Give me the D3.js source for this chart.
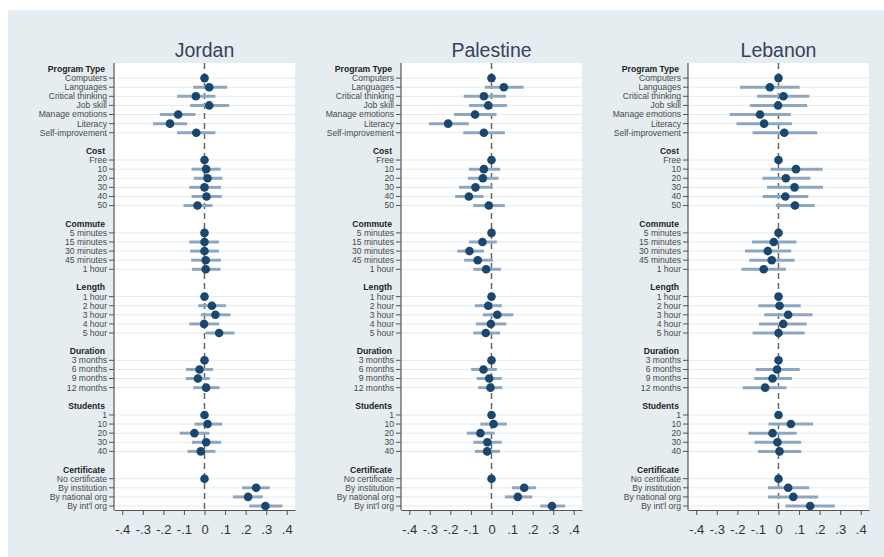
<!DOCTYPE html>
<html>
<head>
<meta charset="utf-8">
<script src="https://cdn.jsdelivr.net/npm/d3@7"></script>
<style>
  body { margin: 0; background: #fff; }
  text { font-family: "Liberation Sans", Arial, sans-serif; }
</style>
</head>
<body>
<div id="chart"></div>
<script>
// headings and levels of each attribute
const headings = ['Program Type', 'Cost', 'Commute', 'Length', 'Duration', 'Students', 'Certificate'];
const levels = [
  ['Computers', 'Languages', 'Critical thinking', 'Job skill', 'Manage emotions', 'Literacy', 'Self-improvement'],
  ['Free', '10', '20', '30', '40', '50'],
  ['5 minutes', '15 minutes', '30 minutes', '45 minutes', '1 hour'],
  ['1 hour', '2 hour', '3 hour', '4 hour', '5 hour'],
  ['3 months', '6 months', '9 months', '12 months'],
  ['1', '10', '20', '30', '40'],
  ['No certificate', 'By institution', 'By national org', "By int'l org"]
];
const countries = ['Jordan', 'Palestine', 'Lebanon'];

// point estimates, in level order (base level = 0, no interval)
const jordanEst = [0, .023, -.042, .023, -.128, -.168, -.04,
  0, .008, .015, 0, .01, -.034,
  0, 0, 0, .006, .006,
  0, .036, .053, -.002, .071,
  0, -.024, -.032, .008,
  0, .015, -.049, .008, -.018,
  0, .251, .212, .296];
const jordanLo = [null, -.055, -.133, -.07, -.217, -.25, -.133,
  null, -.063, -.052, -.074, -.063, -.102,
  null, -.074, -.07, -.065, -.061,
  null, -.03, -.018, -.074, .005,
  null, -.09, -.09, -.055,
  null, -.049, -.121, -.061, -.083,
  null, .183, .138, .218];
const jordanHi = [null, .11, .053, .12, -.044, -.084, .053,
  null, .078, .087, .08, .084, .039,
  null, .07, .07, .08, .078,
  null, .104, .126, .071, .146,
  null, .042, .026, .073,
  null, .086, .024, .081, .053,
  null, .317, .283, .379];

const palestineEst = [0, .06, -.037, -.016, -.08, -.211, -.037,
  0, -.037, -.042, -.078, -.11, -.013,
  0, -.044, -.107, -.067, -.026,
  0, -.016, .028, -.003, -.028,
  0, -.039, -.011, -.005,
  0, .01, -.054, -.02, -.021,
  0, .159, .128, .294];
const palestineLo = [null, -.033, -.135, -.109, -.182, -.304, -.137,
  null, -.11, -.115, -.158, -.177, -.089,
  null, -.109, -.167, -.133, -.089,
  null, -.081, -.042, -.076, -.089,
  null, -.099, -.072, -.065,
  null, -.054, -.12, -.088, -.081,
  null, .1, .065, .237];
const palestineHi = [null, .156, .07, .075, .024, -.11, .065,
  null, .042, .034, .005, -.039, .065,
  null, .026, -.037, .007, .046,
  null, .05, .106, .072, .042,
  null, .026, .05, .052,
  null, .075, .015, .05, .041,
  null, .216, .198, .358];

const lebanonEst = [0, -.042, .024, -.002, -.09, -.07, .028,
  0, .085, .036, .078, .033, .08,
  0, -.023, -.052, -.033, -.072,
  0, .005, .047, .023, 0,
  0, -.007, -.029, -.065,
  0, .06, -.029, -.005, .005,
  0, .047, .072, .154];
const lebanonLo = [null, -.188, -.104, -.139, -.237, -.204, -.126,
  null, -.039, -.078, -.056, -.077, -.013,
  null, -.129, -.163, -.142, -.18,
  null, -.098, -.069, -.095, -.126,
  null, -.111, -.118, -.174,
  null, -.049, -.146, -.116, -.1,
  null, -.051, -.051, .034];
const lebanonHi = [null, .103, .15, .139, .06, .065, .188,
  null, .214, .155, .216, .145, .176,
  null, .087, .062, .078, .036,
  null, .108, .165, .137, .127,
  null, .103, .065, .039,
  null, .168, .088, .11, .111,
  null, .149, .193, .274];

const xTicks = [-.4, -.3, -.2, -.1, 0, .1, .2, .3, .4];
const xTickLabels = ['-.4', '-.3', '-.2', '-.1', '0', '.1', '.2', '.3', '.4'];

const estimates = [jordanEst, palestineEst, lebanonEst];
const lows = [jordanLo, palestineLo, lebanonLo];
const highs = [jordanHi, palestineHi, lebanonHi];

const width = 884, height = 557;
const plotW = 181, plotTop = 63, plotBottom = 510;
const panelLeft = [114, 401, 688];

// build the row list: heading, its levels, then a blank gap row
const rows = [];
let k = 0;
headings.forEach((h, gi) => {
  if (gi > 0) rows.push({ type: 'gap', id: 'gap' + gi });
  rows.push({ type: 'head', label: h, id: 'h' + gi });
  levels[gi].forEach((lv, li) => {
    rows.push({ type: 'item', label: lv, id: 'i' + k, idx: k });
    k++;
  });
});

const y = d3.scalePoint()
  .domain(rows.map(r => r.id))
  .range([69, 506]);

const svg = d3.select('#chart').append('svg')
  .attr('width', width)
  .attr('height', height);

svg.append('rect')
  .attr('x', 8).attr('y', 10)
  .attr('width', width - 8).attr('height', height - 10)
  .attr('fill', '#e5edf0');

const items = rows.filter(r => r.type === 'item');
const heads = rows.filter(r => r.type === 'head');

countries.forEach((name, p) => {
  const left = panelLeft[p];
  const x = d3.scaleLinear()
    .domain([-0.44, 0.44])
    .range([left, left + plotW]);

  const g = svg.append('g');

  g.append('rect')
    .attr('x', left).attr('y', plotTop)
    .attr('width', plotW).attr('height', plotBottom - plotTop)
    .attr('fill', '#fff');

  // gridlines
  g.selectAll('.grid')
    .data(items)
    .join('line')
      .attr('x1', left).attr('x2', left + plotW)
      .attr('y1', d => y(d.id)).attr('y2', d => y(d.id))
      .attr('stroke', '#e3ebef')
      .attr('stroke-width', 1);

  // zero reference line
  g.append('line')
    .attr('x1', x(0)).attr('x2', x(0))
    .attr('y1', plotTop).attr('y2', plotBottom)
    .attr('stroke', '#666')
    .attr('stroke-width', 1.5)
    .attr('stroke-dasharray', '6,4');

  // confidence intervals
  g.selectAll('.ci')
    .data(items.filter(d => lows[p][d.idx] !== null))
    .join('line')
      .attr('x1', d => x(lows[p][d.idx]))
      .attr('x2', d => x(highs[p][d.idx]))
      .attr('y1', d => y(d.id)).attr('y2', d => y(d.id))
      .attr('stroke', '#8da7c1')
      .attr('stroke-width', 3);

  // point estimates
  g.selectAll('.pt')
    .data(items)
    .join('circle')
      .attr('cx', d => x(estimates[p][d.idx]))
      .attr('cy', d => y(d.id))
      .attr('r', 4.3)
      .attr('fill', '#1a476f');

  // x axis
  g.append('g')
    .attr('transform', `translate(0,${plotBottom})`)
    .call(d3.axisBottom(x).tickValues(xTicks)
      .tickFormat((d, i) => xTickLabels[i])
      .tickSize(5).tickSizeOuter(0).tickPadding(10))
    .call(a => a.select('.domain').attr('stroke', '#555').attr('stroke-width', 1.2))
    .call(a => a.selectAll('.tick line').attr('stroke', '#555'))
    .call(a => a.selectAll('.tick text')
      .attr('font-size', 13)
      .attr('fill', '#333')
      .style('font-family', '"Liberation Sans", Arial, sans-serif'));

  // y axis line
  g.append('line')
    .attr('x1', left).attr('x2', left)
    .attr('y1', plotTop).attr('y2', plotBottom)
    .attr('stroke', '#555')
    .attr('stroke-width', 1.2);

  g.selectAll('.ytick')
    .data(items)
    .join('line')
      .attr('x1', left - 5).attr('x2', left)
      .attr('y1', d => y(d.id)).attr('y2', d => y(d.id))
      .attr('stroke', '#555');

  g.selectAll('.ylab')
    .data(items)
    .join('text')
      .attr('x', left - 7)
      .attr('y', d => y(d.id))
      .attr('dy', '0.34em')
      .attr('text-anchor', 'end')
      .attr('font-size', 8.6)
      .attr('fill', '#4a4a4a')
      .text(d => d.label);

  g.selectAll('.yhead')
    .data(heads)
    .join('text')
      .attr('x', left - 9)
      .attr('y', d => y(d.id))
      .attr('dy', '0.34em')
      .attr('text-anchor', 'end')
      .attr('font-size', 8.6)
      .attr('font-weight', 'bold')
      .attr('fill', '#222')
      .text(d => d.label);

  // panel title
  g.append('text')
    .attr('x', x(0))
    .attr('y', 57)
    .attr('text-anchor', 'middle')
    .attr('font-size', 19.5)
    .attr('fill', '#34415f')
    .text(name);
});
</script>
</body>
</html>
